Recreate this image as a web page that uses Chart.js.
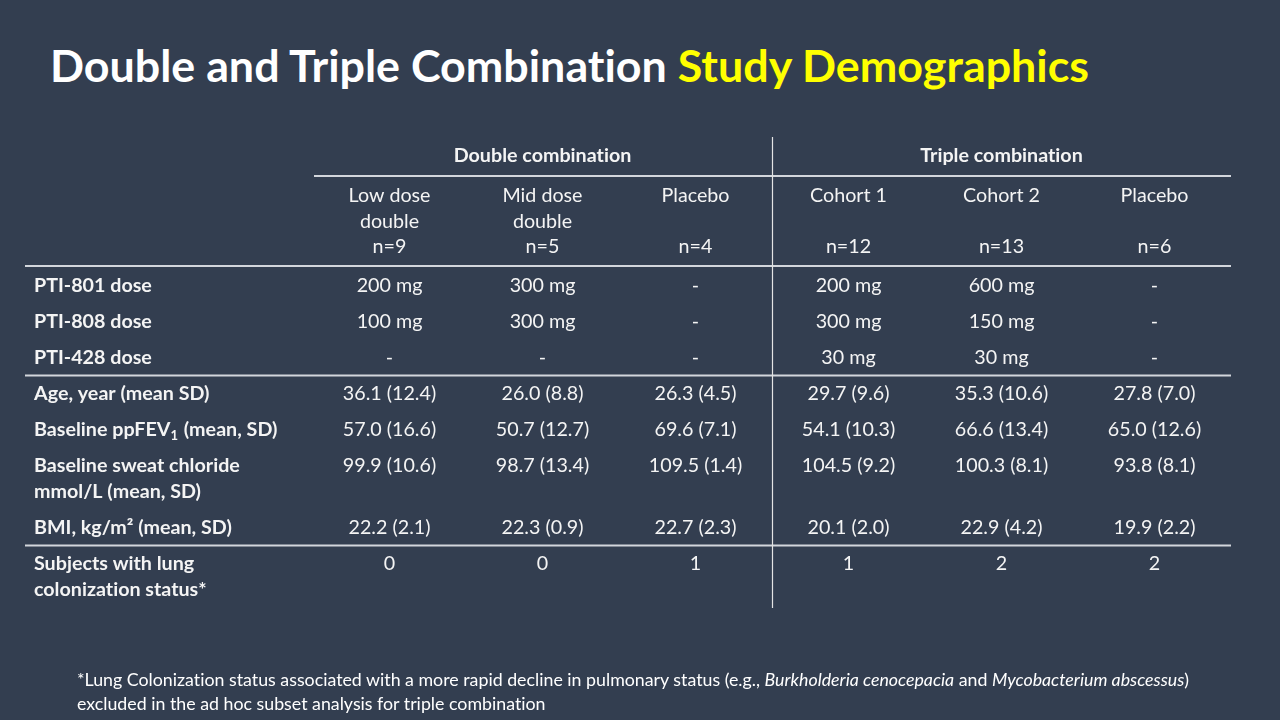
<!DOCTYPE html>
<html>
<head>
<meta charset="utf-8">
<title>Double and Triple Combination Study Demographics</title>
<script src="https://cdn.jsdelivr.net/npm/chart.js@4.4.1/dist/chart.umd.min.js"></script>
<style>
	html, body { margin: 0; padding: 0; background: #333e50; }
	#wrap { position: relative; width: 1280px; height: 720px; overflow: hidden; font-family: Lato, sans-serif; font-variant-ligatures: none; }
	#title { position: absolute; left: 50px; top: 37px; margin: 0; font-size: 44.8px; font-weight: 700; color: #ffffff; white-space: nowrap; line-height: 56px; }
	#title span { color: #ffff00; }
	#note { position: absolute; left: 77px; top: 667px; font-size: 17.8px; line-height: 24px; color: #ffffff; white-space: nowrap; }
	#box { position: absolute; left: 0; top: 0; width: 1280px; height: 720px; }
</style>
</head>
<body>
<div id="wrap">
	<h1 id="title">Double and Triple Combination <span>Study Demographics</span></h1>
	<div id="box"><canvas id="mycanvas"></canvas></div>
	<div id="note">*Lung Colonization status associated with a more rapid decline in pulmonary status (e.g., <i>Burkholderia cenocepacia</i> and <i>Mycobacterium abscessus</i>)<br>excluded in the ad hoc subset analysis for triple combination</div>
</div>
<script>
// study arms (columns)
var armLabels = ['Low dose double', 'Mid dose double', 'Placebo', 'Cohort 1', 'Cohort 2', 'Placebo'];
var armHead = [['Low dose', 'double'], ['Mid dose', 'double'], ['Placebo'], ['Cohort 1'], ['Cohort 2'], ['Placebo']];
var armN = [9, 5, 4, 12, 13, 6];
var groupNames = ['Double combination', 'Triple combination'];
var groupSize = [3, 3];

// values per arm
var pti801 = [200, 300, null, 200, 600, null];
var pti808 = [100, 300, null, 300, 150, null];
var pti428 = [null, null, null, 30, 30, null];
var ageMean = [36.1, 26.0, 26.3, 29.7, 35.3, 27.8];
var ageSD = [12.4, 8.8, 4.5, 9.6, 10.6, 7.0];
var fevMean = [57.0, 50.7, 69.6, 54.1, 66.6, 65.0];
var fevSD = [16.6, 12.7, 7.1, 10.3, 13.4, 12.6];
var chlMean = [99.9, 98.7, 109.5, 104.5, 100.3, 93.8];
var chlSD = [10.6, 13.4, 1.4, 9.2, 8.1, 8.1];
var bmiMean = [22.2, 22.3, 22.7, 20.1, 22.9, 19.9];
var bmiSD = [2.1, 0.9, 2.3, 2.0, 4.2, 2.2];
var lungCol = [0, 0, 1, 1, 2, 2];

var rowLabels = [
	['PTI-801 dose'],
	['PTI-808 dose'],
	['PTI-428 dose'],
	['Age, year (mean SD)'],
	['Baseline ppFEV\u2081 (mean, SD)'],
	['Baseline sweat chloride', 'mmol/L (mean, SD)'],
	['BMI, kg/m\u00b2 (mean, SD)'],
	['Subjects with lung', 'colonization status*']
];

function dose(v) { return v == null ? '-' : v + ' mg'; }
function msd(m, s) { return m.map(function(v, i) { return v.toFixed(1) + ' (' + s[i].toFixed(1) + ')'; }); }

var rows = [
	pti801.map(dose),
	pti808.map(dose),
	pti428.map(dose),
	msd(ageMean, ageSD),
	msd(fevMean, fevSD),
	msd(chlMean, chlSD),
	msd(bmiMean, bmiSD),
	lungCol.map(String)
];
var ruleAfter = [2, 6]; // section breaks

var FONT = 'Lato, sans-serif';
var SIZE = 19.7;
var TXT = '#f4f4f4';

// draws text, with a lowered small digit for the subscript one
function putText(ctx, str, x, y, align, bold) {
	var f = (bold ? '700 ' : '') + SIZE + 'px ' + FONT;
	var fs = (bold ? '700 ' : '') + Math.round(SIZE * 0.65) + 'px ' + FONT;
	ctx.font = f;
	if (str.indexOf('\u2081') < 0) {
		ctx.textAlign = align;
		ctx.fillText(str, x, y);
		return;
	}
	var parts = str.split('\u2081');
	ctx.textAlign = 'left';
	ctx.fillText(parts[0], x, y);
	var w = ctx.measureText(parts[0]).width;
	ctx.font = fs;
	ctx.fillText('1', x + w, y + 6);
	var w2 = ctx.measureText('1').width;
	ctx.font = f;
	ctx.fillText(parts[1], x + w + w2 + 1, y);
}

var tablePlugin = {
	id: 'table',
	afterDraw: function(chart) {
		var ctx = chart.ctx, xs = chart.scales.x, ys = chart.scales.y, area = chart.chartArea;
		var half = (xs.getPixelForValue(1) - xs.getPixelForValue(0)) / 2;
		var labelX = 34, ruleX0 = 25;
		var LINE = 26, PITCH = 36;
		var py = function(v) { return ys.getPixelForValue(v); };

		ctx.save();
		if ('textRendering' in ctx) ctx.textRendering = 'optimizeSpeed';
		ctx.fillStyle = TXT;
		ctx.textBaseline = 'middle';

		// group headers
		var start = 0;
		groupNames.forEach(function(g, k) {
			var cx = (xs.getPixelForValue(start) + xs.getPixelForValue(start + groupSize[k] - 1)) / 2;
			putText(ctx, g, cx, py(19), 'center', true);
			start += groupSize[k];
		});

		// arm headers
		armHead.forEach(function(h, i) {
			var cx = xs.getPixelForValue(i);
			h.forEach(function(t, j) { putText(ctx, t, cx, py(59 + j * 25.5), 'center', false); });
			putText(ctx, 'n=' + armN[i], cx, py(110), 'center', false);
		});

		// body rows
		var y = 148.5, rules = [];
		rows.forEach(function(r, k) {
			rowLabels[k].forEach(function(t, j) { putText(ctx, t, labelX, py(y + j * LINE), 'left', true); });
			r.forEach(function(v, i) { putText(ctx, v, xs.getPixelForValue(i), py(y), 'center', false); });
			var next = y + PITCH + (rowLabels[k].length - 1) * LINE;
			if (ruleAfter.indexOf(k) >= 0) rules.push((y + (rowLabels[k].length - 1) * LINE + next) / 2);
			y = next;
		});

		// rules
		ctx.strokeStyle = '#d3d6dc';
		ctx.lineWidth = 2;
		ctx.beginPath();
		ctx.moveTo(area.left + 1, py(39)); ctx.lineTo(area.right, py(39));
		[129].concat(rules).forEach(function(v) {
			ctx.moveTo(ruleX0, py(v)); ctx.lineTo(area.right, py(v));
		});
		ctx.stroke();

		// divider between the two combinations
		var dx = Math.round(xs.getPixelForValue(groupSize[0] - 1) + half) + 0.5;
		ctx.strokeStyle = '#e4e4e4';
		ctx.lineWidth = 1.2;
		ctx.beginPath();
		ctx.moveTo(dx, area.top); ctx.lineTo(dx, area.bottom);
		ctx.stroke();
		ctx.restore();
	}
};

var ctx = document.getElementById('mycanvas');
var tableChart = new Chart(ctx, {
	type: 'scatter',
	data: { labels: armLabels, datasets: [] },
	options: {
		responsive: true,
		maintainAspectRatio: false,
		animation: false,
		layout: { padding: { left: 313, right: 49, top: 137, bottom: 112 } },
		scales: {
			x: { type: 'category', labels: armLabels, offset: true, display: false },
			y: { type: 'linear', min: 0, max: 471, reverse: true, display: false }
		},
		plugins: { legend: { display: false }, tooltip: { enabled: false } },
		events: []
	},
	plugins: [tablePlugin]
});
</script>
</body>
</html>
